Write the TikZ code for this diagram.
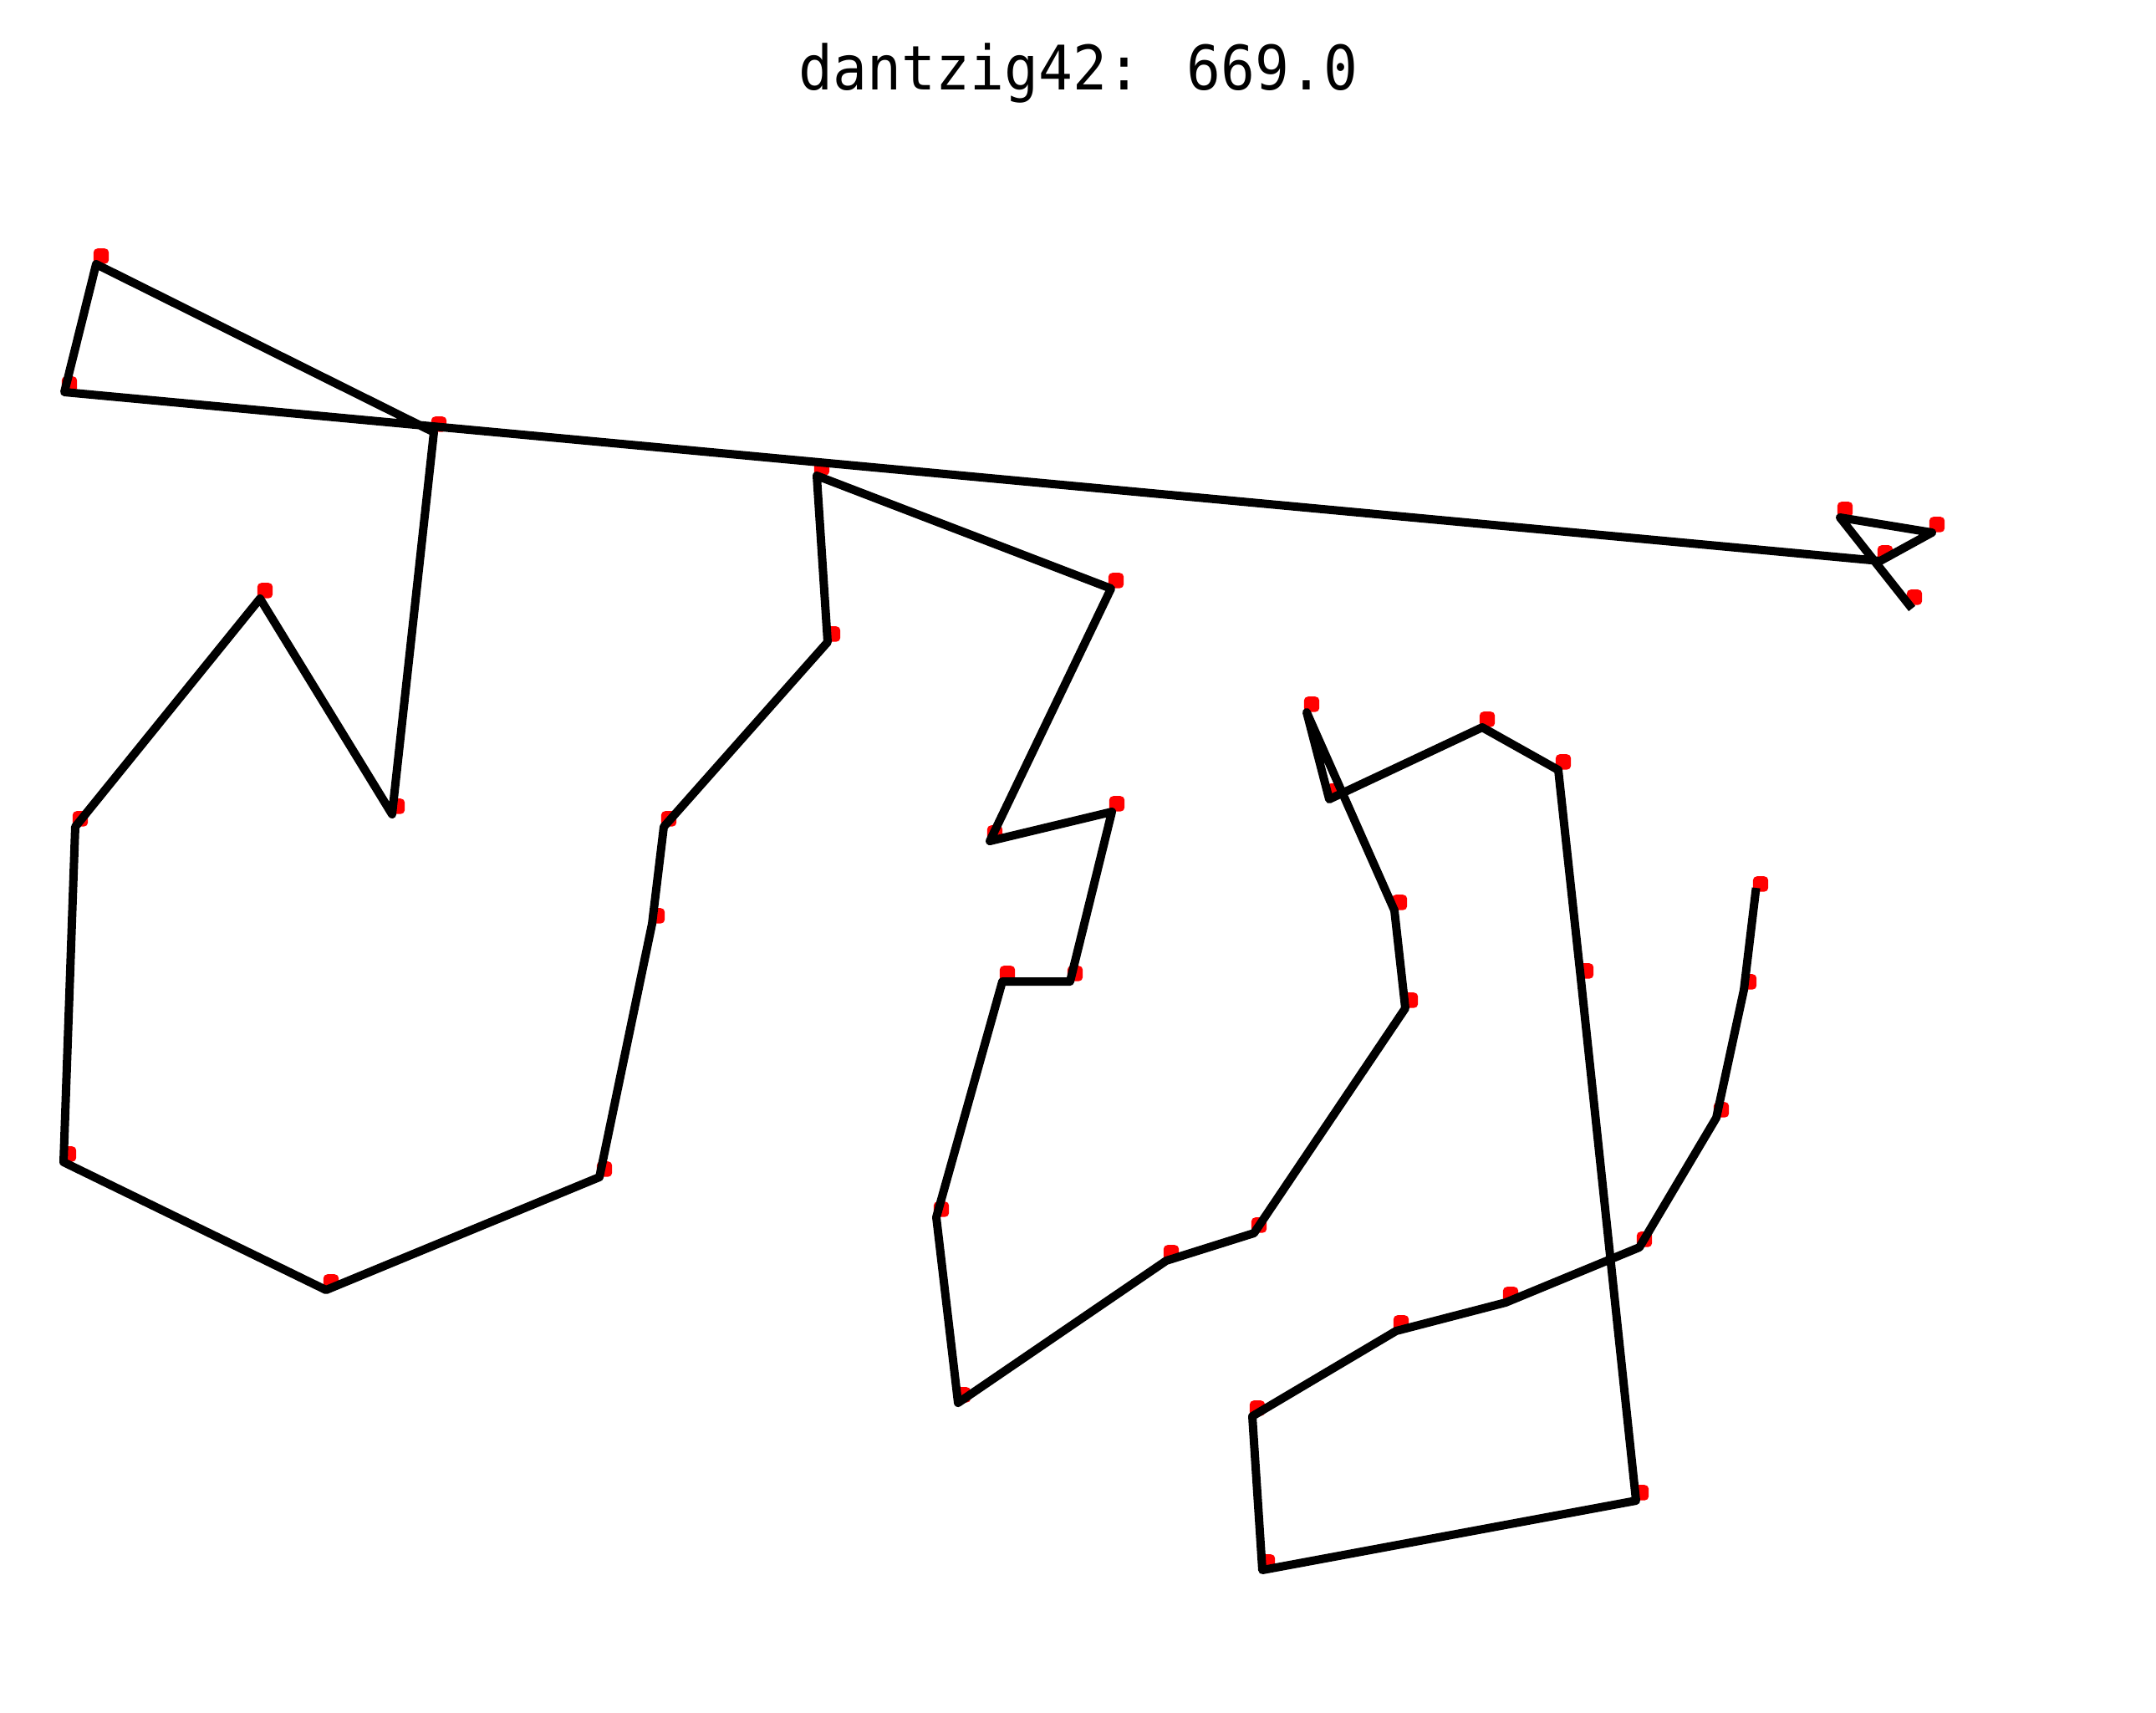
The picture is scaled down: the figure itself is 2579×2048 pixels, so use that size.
\documentclass[tikz,border=0pt]{standalone}
\usepackage{fontspec}
\newfontfamily\titlefont{DejaVu Sans Mono}
\begin{document}
\begin{tikzpicture}[x=0.25pt,y=-0.25pt,
  city/.style={shape=rectangle, fill=red, draw=none, minimum size=4.6pt, inner sep=0pt, rounded corners=1.2pt},
  tour/.style={line width=2.5pt, line join=round, line cap=rect, black},
  titlestyle/.style={font=\titlefont\fontsize{17}{20}\selectfont, anchor=base, inner sep=0pt}]
\useasboundingbox (0,0) rectangle (2579,2048);
\fill[white] (0,0) rectangle (2579,2048);
\node[titlestyle] (title) at (1290,107) {\scalebox{1}[1.08]{dantzig42: 669.0}};
\foreach \i/\x/\y in {
 1/2100/1067, 2/2086/1184, 3/2053/1337, 4/1961/1492, 5/1801/1558,
 6/1670/1592, 7/1498/1694, 8/1510/1878, 9/1957/1795, 10/1891/1171,
 11/1864/921, 12/1773/870, 13/1590/956, 14/1563/852, 15/1668/1089,
 16/1681/1206, 17/1500/1475, 18/1395/1508, 19/1146/1678, 20/1120/1456,
 21/1199/1174, 22/1280/1174, 23/1330/971, 24/1184/1006, 25/1329/704,
 26/977/569, 27/990/768, 28/794/989, 29/780/1105, 30/717/1408,
 31/390/1543, 32/76/1390, 33/90/989, 34/311/716, 35/469/974,
 36/519/517, 37/115/316, 38/77/469, 39/2249/671, 40/2311/637,
 41/2201/619, 42/2284/724} {
  \coordinate (p\i) at (\x,\y);
  \node[city] (m\i) at ([xshift=1.5pt,yshift=2.4pt]p\i) {};
}
\draw[tour] (p1) foreach \i in {2,...,42} { -- (p\i) };
\end{tikzpicture}
\end{document}
